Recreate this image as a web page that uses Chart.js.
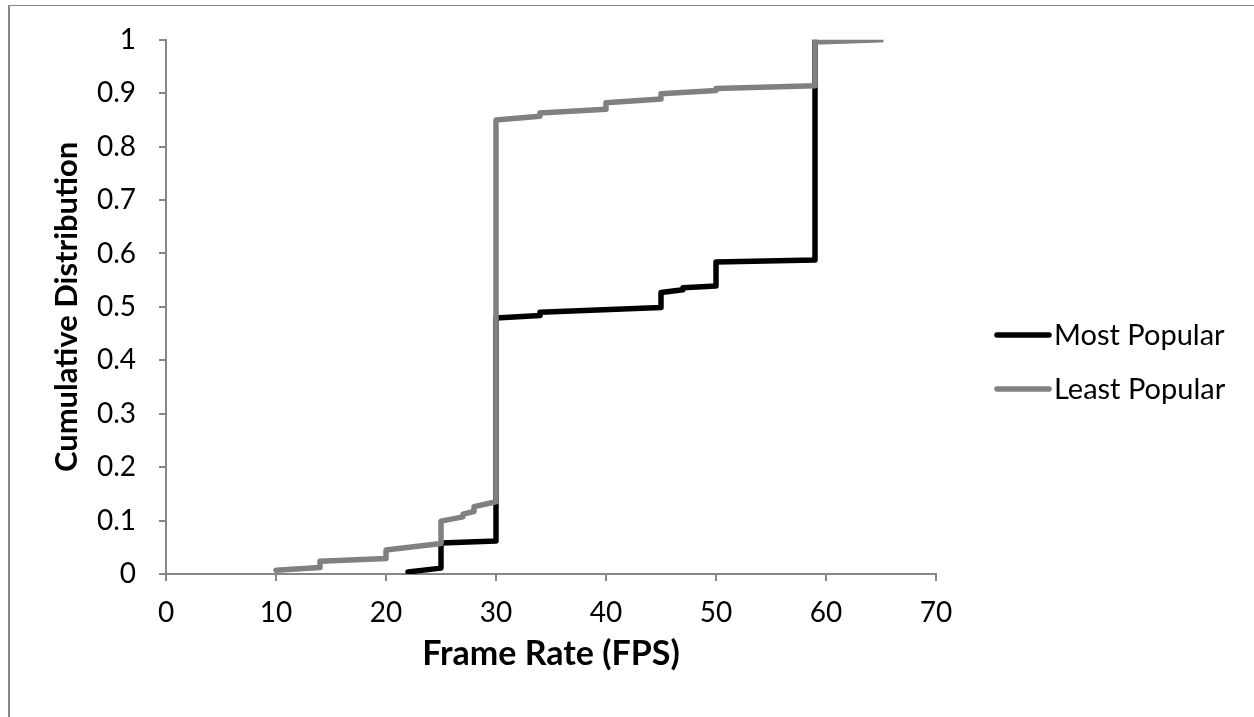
<!DOCTYPE html>
<html>
<head>
<meta charset="utf-8">
<script src="https://cdn.jsdelivr.net/npm/chart.js@4.4.1/dist/chart.umd.min.js"></script>
<style>
  html, body { margin: 0; padding: 0; background: #fff; }
  #wrap { width: 1254px; height: 717px; position: relative; }
</style>
</head>
<body>
<div id="wrap"><canvas id="c" width="1254" height="717"></canvas></div>
<script>
// ---- data ----
const seriesNames = ['Most Popular', 'Least Popular'];
const mostX  = [22, 25, 25, 30, 30, 34, 34, 45, 45, 47, 47, 50, 50, 59, 59];
const mostY  = [0.004, 0.011, 0.058, 0.062, 0.479, 0.484, 0.490, 0.499, 0.527, 0.532, 0.536, 0.539, 0.584, 0.588, 1.0];
const leastX = [10, 14, 14, 20, 20, 25, 25, 27, 27, 28, 28, 29.5, 30, 30, 34, 34, 40, 40, 45, 45, 50, 50, 59, 59, 65];
const leastY = [0.007, 0.012, 0.024, 0.029, 0.045, 0.057, 0.099, 0.107, 0.112, 0.117, 0.126, 0.133, 0.135, 0.850, 0.857, 0.863, 0.870, 0.882, 0.889, 0.899, 0.905, 0.909, 0.914, 0.996, 1.0];
const xTickLabels = ['0', '10', '20', '30', '40', '50', '60', '70'];
const yTickLabels = ['0', '0.1', '0.2', '0.3', '0.4', '0.5', '0.6', '0.7', '0.8', '0.9', '1'];
const xTitle = 'Frame Rate (FPS)';
const yTitle = 'Cumulative Distribution';
const seriesColors = ['#000000', '#808080'];

const toPts = (xs, ys) => xs.map((x, i) => ({ x: x, y: ys[i] }));

Chart.defaults.font.family = 'Lato, "Open Sans", sans-serif';
Chart.defaults.color = '#000';

const axisGray = '#868686';

const framePlugin = {
  id: 'frame',
  beforeDraw(chart) {
    const ctx = chart.ctx;
    ctx.save();
    ctx.fillStyle = '#fff';
    ctx.fillRect(0, 0, chart.width, chart.height);
    ctx.fillStyle = axisGray;
    ctx.fillRect(8, 5, chart.width - 8, 1);
    ctx.fillRect(8, 5, 2, chart.height - 5);
    ctx.restore();
  }
};

const legendPlugin = {
  id: 'customLegend',
  afterDraw(chart) {
    const ctx = chart.ctx;
    const rows = [335, 389];
    ctx.save();
    chart.data.datasets.forEach((ds, i) => {
      const y = rows[i];
      ctx.strokeStyle = ds.borderColor;
      ctx.lineWidth = 5.5;
      ctx.lineCap = 'round';
      ctx.beginPath();
      ctx.moveTo(997, y);
      ctx.lineTo(1049, y);
      ctx.stroke();
      ctx.fillStyle = '#000';
      ctx.font = '29px Lato, "Open Sans", sans-serif';
      ctx.textBaseline = 'alphabetic';
      ctx.textAlign = 'left';
      ctx.fillText(ds.label, 1054, y + 10);
    });
    ctx.restore();
  }
};

new Chart(document.getElementById('c'), {
  type: 'line',
  data: {
    datasets: [
      {
        label: seriesNames[0],
        data: toPts(mostX, mostY),
        borderColor: seriesColors[0],
        backgroundColor: seriesColors[0],
        borderWidth: 5.5,
        borderCapStyle: 'round',
        borderJoinStyle: 'round',
        pointRadius: 0,
        tension: 0,
        fill: false,
        order: 1
      },
      {
        label: seriesNames[1],
        data: toPts(leastX, leastY),
        borderColor: seriesColors[1],
        backgroundColor: seriesColors[1],
        borderWidth: 5.5,
        borderCapStyle: 'round',
        borderJoinStyle: 'round',
        pointRadius: 0,
        tension: 0,
        fill: false,
        order: 0
      }
    ]
  },
  options: {
    responsive: false,
    animation: false,
    layout: { padding: { left: 0, top: 38, right: 318, bottom: 0 } },
    plugins: {
      legend: { display: false },
      tooltip: { enabled: false }
    },
    scales: {
      x: {
        type: 'linear',
        min: 0, max: 70,
        afterFit(scale) { scale.height = 143; },
        ticks: {
          stepSize: 10,
          padding: 15,
          font: { size: 28 },
          color: '#000',
          callback: (v, i) => xTickLabels[i]
        },
        grid: { drawOnChartArea: false, drawTicks: true, tickLength: 7, color: axisGray, lineWidth: 2 },
        border: { display: true, color: axisGray, width: 2 },
        title: {
          display: true,
          text: xTitle,
          font: { size: 34, weight: 'bold' },
          color: '#000',
          padding: { top: 0, bottom: 43 }
        }
      },
      y: {
        type: 'linear',
        min: 0, max: 1,
        afterFit(scale) { scale.width = 166; },
        ticks: {
          stepSize: 0.1,
          padding: 23,
          font: { size: 28 },
          color: '#000',
          callback: (v, i) => yTickLabels[i]
        },
        grid: { drawOnChartArea: false, drawTicks: true, tickLength: 7, color: axisGray, lineWidth: 2 },
        border: { display: true, color: axisGray, width: 2 },
        title: {
          display: true,
          text: yTitle,
          font: { size: 31, weight: 'bold' },
          color: '#000',
          padding: { top: 48, bottom: 0 }
        }
      }
    }
  },
  plugins: [framePlugin, legendPlugin]
});
</script>
</body>
</html>
